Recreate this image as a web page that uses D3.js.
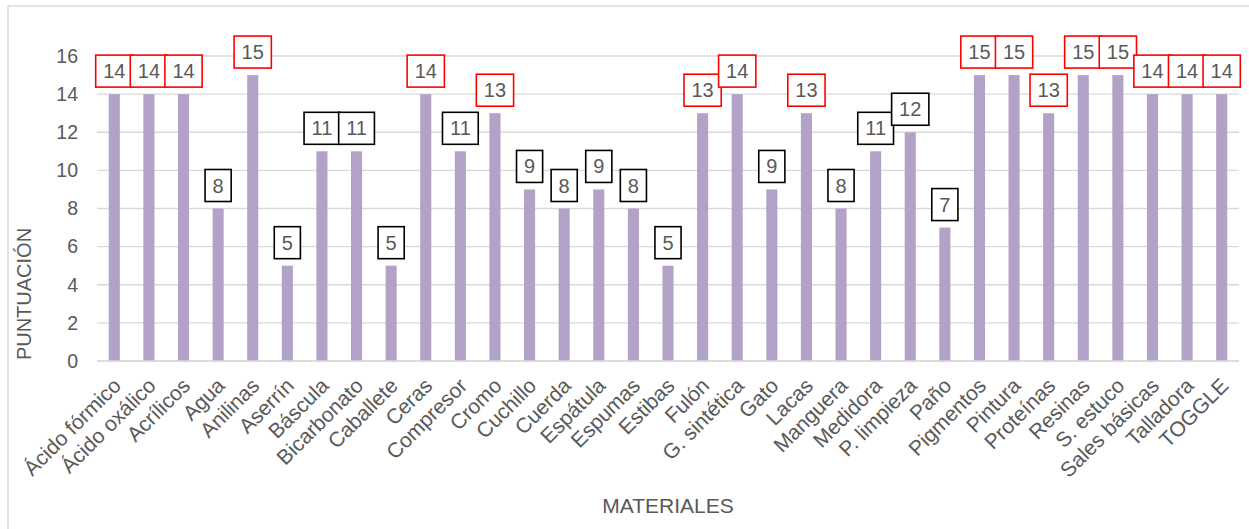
<!DOCTYPE html>
<html>
<head>
<meta charset="utf-8">
<script src="https://cdn.jsdelivr.net/npm/d3@7"></script>
<style>
  html, body { margin: 0; padding: 0; background: #fff; }
  svg { display: block; font-family: "Liberation Sans", Arial, sans-serif; }
</style>
</head>
<body>
<svg id="chart" width="1249" height="529"></svg>
<script>
// Materials and their scores
const categories = [
  "Ácido fórmico", "Ácido oxálico", "Acrílicos", "Agua", "Anilinas", "Aserrín",
  "Báscula", "Bicarbonato", "Caballete", "Ceras", "Compresor", "Cromo",
  "Cuchillo", "Cuerda", "Espátula", "Espumas", "Estibas", "Fulón",
  "G. sintética", "Gato", "Lacas", "Manguera", "Medidora", "P. limpieza",
  "Paño", "Pigmentos", "Pintura", "Proteínas", "Resinas", "S. estuco",
  "Sales básicas", "Talladora", "TOGGLE"
];
const scores = [
  14, 14, 14, 8, 15, 5,
  11, 11, 5, 14, 11, 13,
  9, 8, 9, 8, 5, 13,
  14, 9, 13, 8, 11, 12,
  7, 15, 15, 13, 15, 15,
  14, 14, 14
];
const yTicks = [0, 2, 4, 6, 8, 10, 12, 14, 16];
const yTitle = "PUNTUACIÓN";
const xTitle = "MATERIALES";
// scores at or above this get a red label frame
const highlightFrom = 13;

const data = categories.map((c, i) => ({ name: c, value: scores[i] }));

const svg = d3.select("#chart");
const margin = { left: 97, right: 10, top: 56, bottom: 168 };
const W = 1249, H = 529;
const textColor = "#595959";

// outer chart frame
svg.append("rect")
  .attr("x", 8).attr("y", 6)
  .attr("width", 1300).attr("height", 600)
  .attr("fill", "none")
  .attr("stroke", "#d9d9d9")
  .attr("stroke-width", 1.5);

const x = d3.scaleBand()
  .domain(categories)
  .range([margin.left, W - margin.right])
  .paddingInner(0.68)
  .paddingOuter(0.34);

const y = d3.scaleLinear()
  .domain([0, 16])
  .range([H - margin.bottom, margin.top]);

// horizontal gridlines
svg.append("g")
  .selectAll("line")
  .data(yTicks)
  .join("line")
  .attr("x1", margin.left).attr("x2", W - margin.right)
  .attr("y1", d => y(d)).attr("y2", d => y(d))
  .attr("stroke", "#d9d9d9")
  .attr("stroke-width", 1.3);

// y axis labels
const yAxis = d3.axisLeft(y).tickValues(yTicks).tickSize(0).tickPadding(0);
const yg = svg.append("g")
  .attr("transform", `translate(${margin.left - 19},0)`)
  .call(yAxis);
yg.select(".domain").remove();
yg.selectAll("text")
  .attr("fill", textColor)
  .style("font-size", "19.5px")
  .attr("font-family", "'Liberation Sans', Arial, sans-serif");

// bars
svg.append("g")
  .selectAll("rect")
  .data(data)
  .join("rect")
  .attr("x", d => x(d.name))
  .attr("width", x.bandwidth())
  .attr("y", d => y(d.value))
  .attr("height", d => y(0) - y(d.value))
  .attr("fill", "#b3a2c7");

// baseline
svg.append("line")
  .attr("x1", margin.left).attr("x2", W - margin.right)
  .attr("y1", y(0)).attr("y2", y(0))
  .attr("stroke", "#d9d9d9")
  .attr("stroke-width", 1.5);

// x axis category labels, rotated
const xAxis = d3.axisBottom(x).tickSize(0).tickPadding(0);
const xg = svg.append("g")
  .attr("transform", `translate(0,${y(0)})`)
  .call(xAxis);
xg.select(".domain").remove();
xg.selectAll("text")
  .attr("fill", textColor)
  .style("font-size", "21px")
  .attr("font-family", "'Liberation Sans', Arial, sans-serif")
  .attr("text-anchor", "end")
  .attr("dy", null)
  .attr("y", null)
  .attr("transform", "translate(8,26) rotate(-45)");

// value labels with frames
const labels = svg.append("g")
  .selectAll("g")
  .data(data)
  .join("g")
  .attr("transform", d => `translate(${x(d.name) + x.bandwidth() / 2},${y(d.value) - 7})`);

labels.append("text")
  .attr("class", "val")
  .attr("text-anchor", "middle")
  .attr("y", -9)
  .attr("fill", textColor)
  .style("font-size", "20px")
  .text(d => d.value);

labels.each(function(d) {
  const g = d3.select(this);
  const tw = g.select("text").node().getComputedTextLength();
  const bw = tw + 15, bh = 32;
  g.insert("rect", "text")
    .attr("x", -bw / 2).attr("y", -bh)
    .attr("width", bw).attr("height", bh)
    .attr("fill", "#fff")
    .attr("stroke", d.value >= highlightFrom ? "#ff0000" : "#000")
    .attr("stroke-width", 1.6);
});

// axis titles
svg.append("text")
  .attr("transform", `translate(31,294) rotate(-90)`)
  .attr("text-anchor", "middle")
  .attr("fill", textColor)
  .style("font-size", "20px")
  .text(yTitle);

svg.append("text")
  .attr("x", 668).attr("y", 513)
  .attr("text-anchor", "middle")
  .attr("fill", textColor)
  .style("font-size", "21px")
  .text(xTitle);
</script>
</body>
</html>
